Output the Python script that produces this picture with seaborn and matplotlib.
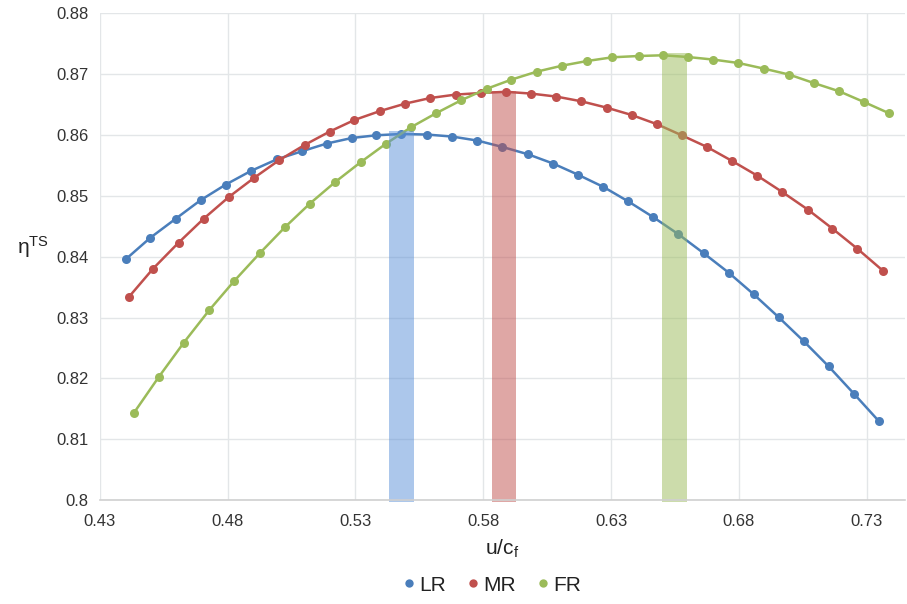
import matplotlib
matplotlib.use("Agg")
import matplotlib.pyplot as plt
from matplotlib.lines import Line2D
import seaborn as sns
import pandas as pd

# ---- data ----
lr_x = [0.4402, 0.4497, 0.4598, 0.4694, 0.4793, 0.4891, 0.4993, 0.5091, 0.5187, 0.5286,
        0.5381, 0.5480, 0.5581, 0.5679, 0.5777, 0.5875, 0.5975, 0.6073, 0.6169, 0.6270,
        0.6366, 0.6465, 0.6563, 0.6662, 0.6759, 0.6857, 0.6955, 0.7053, 0.7151, 0.7250, 0.7348]
lr_y = [0.83959, 0.84309, 0.84627, 0.84928, 0.85186, 0.85409, 0.85601, 0.85733, 0.85859, 0.85951,
        0.85995, 0.86017, 0.86007, 0.85974, 0.85908, 0.85803, 0.85683, 0.85531, 0.85350, 0.85146,
        0.84911, 0.84649, 0.84369, 0.84057, 0.83740, 0.83384, 0.83006, 0.82612, 0.82196, 0.81746, 0.81293]

mr_x = [0.4414, 0.4509, 0.4608, 0.4707, 0.4805, 0.4903, 0.5001, 0.5101, 0.5199, 0.5296,
        0.5397, 0.5495, 0.5593, 0.5692, 0.5791, 0.5889, 0.5988, 0.6086, 0.6183, 0.6282,
        0.6380, 0.6480, 0.6576, 0.6675, 0.6773, 0.6871, 0.6969, 0.7069, 0.7165, 0.7263, 0.7362]
mr_y = [0.83339, 0.83806, 0.84230, 0.84627, 0.84982, 0.85294, 0.85585, 0.85836, 0.86056, 0.86247,
        0.86395, 0.86516, 0.86608, 0.86664, 0.86690, 0.86710, 0.86680, 0.86631, 0.86554, 0.86450,
        0.86329, 0.86176, 0.85995, 0.85803, 0.85573, 0.85333, 0.85064, 0.84775, 0.84463, 0.84131, 0.83773]

fr_x = [0.4432, 0.4531, 0.4629, 0.4728, 0.4826, 0.4925, 0.5024, 0.5122, 0.5221, 0.5320,
        0.5418, 0.5517, 0.5615, 0.5713, 0.5813, 0.5910, 0.6010, 0.6109, 0.6206, 0.6305,
        0.6407, 0.6503, 0.6599, 0.6700, 0.6798, 0.6897, 0.6996, 0.7092, 0.7192, 0.7289, 0.7387]
fr_y = [0.81424, 0.82025, 0.82590, 0.83121, 0.83602, 0.84054, 0.84484, 0.84874, 0.85228, 0.85552,
        0.85853, 0.86127, 0.86357, 0.86570, 0.86759, 0.86910, 0.87042, 0.87140, 0.87216, 0.87277,
        0.87298, 0.87310, 0.87282, 0.87239, 0.87183, 0.87091, 0.86993, 0.86855, 0.86718, 0.86542, 0.86357]

series_names = ["LR", "MR", "FR"]
series_colors = ["#4A7EBB", "#C0504D", "#9BBB59"]
band_colors = ["#5A90D8", "#C0504D", "#9BBB59"]

# optimum bands (left edge, right edge, top)
band_left = [0.5432, 0.5834, 0.6499]
band_right = [0.5528, 0.5929, 0.6595]
band_top = [0.86066, 0.86723, 0.87354]

x_ticks = [0.43, 0.48, 0.53, 0.58, 0.63, 0.68, 0.73]
x_tick_labels = ["0.43", "0.48", "0.53", "0.58", "0.63", "0.68", "0.73"]
y_ticks = [0.80, 0.81, 0.82, 0.83, 0.84, 0.85, 0.86, 0.87, 0.88]
y_tick_labels = ["0.8", "0.81", "0.82", "0.83", "0.84", "0.85", "0.86", "0.87", "0.88"]

# ---- figure ----
sns.set_theme(style="white")
plt.rcParams["font.family"] = ["Liberation Sans", "DejaVu Sans"]
plt.rcParams["mathtext.fontset"] = "custom"
plt.rcParams["mathtext.rm"] = "Liberation Sans"
plt.rcParams["mathtext.it"] = "Liberation Sans"

fig = plt.figure(figsize=(9.07, 6.04), dpi=100)
ax = fig.add_axes([0.110, 0.172, 0.888, 0.806])

frames = []
for name, xs, ys in zip(series_names, [lr_x, mr_x, fr_x], [lr_y, mr_y, fr_y]):
    frames.append(pd.DataFrame({"x": xs, "y": ys, "series": name}))
df = pd.concat(frames, ignore_index=True)

for name, col in zip(series_names, series_colors):
    sub = df[df["series"] == name]
    sns.lineplot(data=sub, x="x", y="y", ax=ax, color=col, lw=1.8,
                 marker="o", markersize=6.5, markeredgewidth=0, sort=False,
                 legend=False, zorder=3)

base = 0.7997
for l, r, t, col in zip(band_left, band_right, band_top, band_colors):
    ax.bar((l + r) / 2, t - base, width=r - l, bottom=base, color=col,
           alpha=0.5, linewidth=0, zorder=4, clip_on=False)

ax.set_xlim(0.43, 0.745)
ax.set_ylim(0.80, 0.88)
ax.set_xticks(x_ticks)
ax.set_xticklabels(x_tick_labels)
ax.set_yticks(y_ticks)
ax.set_yticklabels(y_tick_labels)
ax.tick_params(axis="both", labelsize=12, colors="#333333", length=0)
ax.tick_params(axis="x", pad=10)
ax.tick_params(axis="y", pad=8)
ax.grid(True, color="#E3E6E8", lw=1)
ax.set_axisbelow(True)
for s in ["top", "right", "left"]:
    ax.spines[s].set_visible(False)
ax.spines["bottom"].set_color("#D0D0D0")
ax.spines["bottom"].set_linewidth(1.2)
ax.spines["bottom"].set_zorder(5)

ax.set_xlabel("u/c$_{\\rm f}$", fontsize=15, color="#222222", labelpad=6)
ax.set_ylabel("η$^{\\rm TS}$", fontsize=15, color="#222222", rotation=0,
              va="center")
ax.yaxis.set_label_coords(-0.083, 0.52)

handles = [Line2D([], [], ls="none", marker="o", markersize=6, markeredgewidth=0,
                  color=c) for c in series_colors]
fig.legend(handles, series_names, loc="center", bbox_to_anchor=(0.54, 0.031),
           ncol=3, frameon=False, fontsize=15, handletextpad=0.0,
           columnspacing=0.8, handlelength=1.0, labelcolor="#222222")

fig.savefig("out.png", dpi=100)
